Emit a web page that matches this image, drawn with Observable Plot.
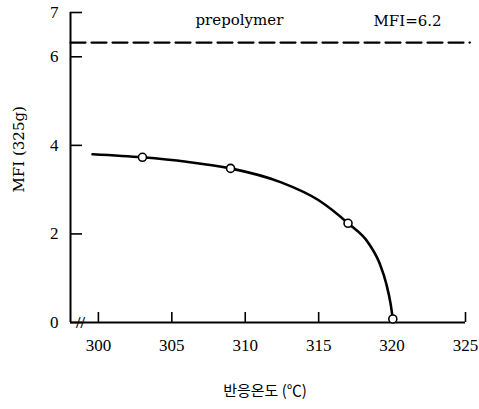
<!DOCTYPE html>
<html>
<head>
<meta charset="utf-8">
<script src="https://cdn.jsdelivr.net/npm/d3@7"></script>
<script src="https://cdn.jsdelivr.net/npm/@observablehq/plot@0.6"></script>
<style>
  html, body { margin: 0; padding: 0; background: #fff; }
  #chart svg { display: block; }
</style>
</head>
<body>
<div id="chart"></div>
<script>
// Data
const xTicks = [300, 305, 310, 315, 320, 325];
const yTicks = [0, 2, 4, 6, 7];
const pointTemp = [303, 309, 317, 320.05];
const pointMFI = [3.73, 3.48, 2.24, 0.08];
const curveTemp = [299.6, 303, 306, 309, 312.4, 315, 317, 318.42, 319.17, 319.61, 319.9, 320.05];
const curveMFI = [3.80, 3.73, 3.63, 3.48, 3.17, 2.76, 2.24, 1.78, 1.32, 0.87, 0.42, 0.08];
const prepolymerTemp = [298.1, 325.3];
const prepolymerMFI = [6.32, 6.32];
const xDomain = [298.1, 325];
const yDomain = [0, 7];
const titleLeft = "prepolymer";
const titleRight = "MFI=6.2";
const yLabel = "MFI (325g)";
const xLabel = "반응온도 (℃)";

const points = pointTemp.map((t, i) => ({t, m: pointMFI[i]}));
const curve = curveTemp.map((t, i) => ({t, m: curveMFI[i]}));
const dashed = prepolymerTemp.map((t, i) => ({t, m: prepolymerMFI[i]}));
const x0 = xDomain[0];

const serif = "'DejaVu Serif', 'Liberation Serif', serif";
const tickFont = "'Liberation Serif', 'DejaVu Serif', serif";

const chart = Plot.plot({
  width: 479,
  height: 409,
  marginLeft: 70,
  marginRight: 14,
  marginTop: 12,
  marginBottom: 87,
  style: {background: "#fff", color: "#000"},
  x: {domain: xDomain, axis: null},
  y: {domain: yDomain, axis: null},
  marks: [
    // axis lines
    Plot.ruleX([x0], {y1: yDomain[0], y2: yDomain[1], stroke: "#000", strokeWidth: 2}),
    Plot.ruleY([0], {x1: x0, x2: xDomain[1], stroke: "#000", strokeWidth: 2}),
    // inward ticks
    Plot.ruleX(xTicks, {x: d => d, y1: 0, y2: 0, insetTop: -10, stroke: "#000", strokeWidth: 1.6}),
    Plot.ruleY(yTicks, {y: d => d, x1: x0, x2: x0, insetRight: -12, stroke: "#000", strokeWidth: 1.6}),
    // tick labels
    Plot.text(xTicks, {x: d => d, y: 0, dy: 23, text: d => String(d), fontSize: 17, fontFamily: tickFont, fill: "#000"}),
    Plot.text(yTicks, {x: x0, y: d => d, dx: -12, textAnchor: "end", text: d => String(d), fontSize: 17, fontFamily: tickFont, fill: "#000"}),
    // axis break
    Plot.text([0], {x: x0, y: 0, dx: 10, dy: 0, text: () => "//", fontSize: 16, fontWeight: "bold", fontFamily: tickFont, fill: "#000"}),
    // prepolymer dashed line
    Plot.line(dashed, {x: "t", y: "m", stroke: "#000", strokeWidth: 2.2, strokeDasharray: "15,6", clip: false}),
    // fitted curve
    Plot.line(curve, {x: "t", y: "m", curve: "monotone-x", stroke: "#000", strokeWidth: 2.6}),
    // data points
    Plot.dot(points, {x: "t", y: "m", r: 4, fill: "#fff", stroke: "#000", strokeWidth: 1.6}),
    // annotations
    Plot.text([titleLeft], {frameAnchor: "top-left", dx: 125, dy: 2, text: d => d, fontSize: 15, fontFamily: serif, fill: "#000"}),
    Plot.text([titleRight], {frameAnchor: "top-left", dx: 303, dy: 3, text: d => d, fontSize: 15, fontFamily: serif, fill: "#000"}),
    Plot.text([yLabel], {frameAnchor: "left", dx: -51, dy: 25, rotate: -90, text: d => d, fontSize: 15, fontFamily: serif, fill: "#000"}),
    Plot.text([xLabel], {frameAnchor: "bottom", dx: -3, dy: 73, text: d => d, fontSize: 15, fontFamily: "'Noto Sans CJK KR', sans-serif", fill: "#000", letterSpacing: "3px"})
  ]
});
document.getElementById("chart").appendChild(chart);
</script>
</body>
</html>
